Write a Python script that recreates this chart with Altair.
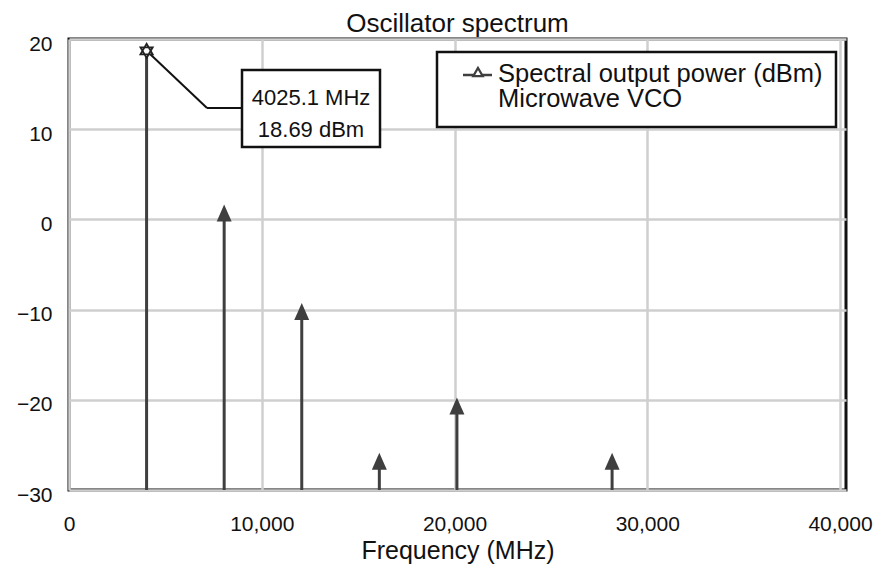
import altair as alt
import pandas as pd

# ---- data ----
freq_mhz = [4025.1, 8050.2, 12075.3, 16100.4, 20125.5, 28175.7]
power_dbm = [18.69, 0.7, -10.2, -26.8, -20.7, -26.8]
x_ticks = [0, 10000, 20000, 30000, 40000]
y_ticks = [-30, -20, -10, 0, 10, 20]
title_text = "Oscillator spectrum"
x_title = "Frequency (MHz)"
legend_text = "Spectral output power (dBm)\nMicrowave VCO"

df = pd.DataFrame({"freq": freq_mhz, "power": power_dbm})
df["floor"] = min(y_ticks)
df["is_peak"] = df["power"] == df["power"].max()
peak = df[df["is_peak"]].iloc[0]
annot_df = pd.DataFrame({"label": [f"{peak['freq']:.1f} MHz\n{peak['power']:.2f} dBm"]})
one = pd.DataFrame({"k": [0]})

# ---- layout / style ----
W, H = 777, 451
FONT = "Liberation Sans"
DARK = "#3f3f3f"
X_MAX = 40311
xs = alt.Scale(domain=[0, X_MAX], nice=False, zero=False)
ys = alt.Scale(domain=[min(y_ticks), max(y_ticks)], nice=False)
TRI = "M0,-1L-0.88,1L0.88,1Z"
STAR = "M0,-1L0.866,0.5L-0.866,0.5Z M0,1L-0.866,-0.5L0.866,-0.5Z"

x_axis = alt.Axis(values=x_ticks, format=",d", title=x_title, ticks=False, tickSize=0,
                  domain=False, labelPadding=23, labelFontSize=21, labelFlush=False,
                  titleFontSize=25, titleY=48, titleBaseline="top", titleFontWeight="normal")
y_axis = alt.Axis(values=y_ticks, format="d", title=None, ticks=False, tickSize=0,
                  domain=False, labelPadding=17, labelFontSize=21, labelOffset=5,
                  labelFlush=False)

base = alt.Chart(df)

stems = base.mark_rule(color=DARK, strokeWidth=3).encode(
    x=alt.X("freq:Q", scale=xs, axis=x_axis),
    y=alt.Y("floor:Q", scale=ys, axis=y_axis),
    y2="power:Q",
)

tris = base.transform_filter("!datum.is_peak").mark_point(
    shape=TRI, size=289, filled=True, color=DARK, opacity=1
).encode(x=alt.X("freq:Q", scale=xs), y=alt.Y("power:Q", scale=ys))

leader = base.transform_filter("datum.is_peak").mark_rule(color="#111", strokeWidth=2).encode(
    x=alt.X("freq:Q", scale=xs), y=alt.Y("power:Q", scale=ys),
    x2=alt.value(138), y2=alt.value(69),
)
leader2 = alt.Chart(one).mark_rule(color="#111", strokeWidth=2).encode(
    x=alt.value(138), x2=alt.value(173), y=alt.value(69)
)

star = base.transform_filter("datum.is_peak").mark_point(
    shape=STAR, size=200, filled=True, fill="white", stroke="#222", strokeWidth=1.8, opacity=1
).encode(x=alt.X("freq:Q", scale=xs), y=alt.Y("power:Q", scale=ys))

annot_box = alt.Chart(annot_df).mark_rect(fill="white", stroke="#111", strokeWidth=2.5).encode(
    x=alt.value(173), x2=alt.value(311), y=alt.value(31), y2=alt.value(108)
)
annot_txt = alt.Chart(annot_df).mark_text(
    font=FONT, fontSize=22, lineBreak="\n", lineHeight=32, align="center",
    baseline="middle", color="#111"
).encode(text="label:N", x=alt.value(242), y=alt.value(59))

leg_box = alt.Chart(one).mark_rect(fill="white", stroke="#111", strokeWidth=2.5).encode(
    x=alt.value(368), x2=alt.value(767), y=alt.value(13), y2=alt.value(88)
)
leg_line = alt.Chart(one).mark_rule(color=DARK, strokeWidth=2.5).encode(
    x=alt.value(394), x2=alt.value(423), y=alt.value(36)
)
leg_sym = alt.Chart(one).mark_point(
    shape="triangle-up", size=90, filled=True, fill="white", stroke=DARK, strokeWidth=2.2, opacity=1
).encode(x=alt.value(409), y=alt.value(33))
leg_txt = alt.Chart(one).mark_text(
    text=legend_text, font=FONT, fontSize=25.5, lineBreak="\n", lineHeight=25,
    align="left", baseline="middle", color="#111"
).encode(x=alt.value(429), y=alt.value(35))

title_mark = alt.Chart(one).mark_text(
    text=title_text, font=FONT, fontSize=26, align="center", baseline="alphabetic", color="#111"
).encode(x=alt.value(W / 2), y=alt.value(-7))

chart = alt.layer(
    stems, tris, leader, leader2, star, annot_box, annot_txt, leg_box, leg_line, leg_sym, leg_txt,
    title_mark,
).properties(
    width=W, height=H,
    autosize=alt.AutoSizeParams(type="none"),
    padding={"left": 61, "top": 31, "right": 28, "bottom": 76},
).configure_view(
    stroke="#111", strokeWidth=3
).configure_axis(
    labelFont=FONT, titleFont=FONT, labelColor="#111", titleColor="#111",
    gridColor="#cfcfcf", gridWidth=2.5,
)

chart.save("out.html", embed_options={"renderer": "svg", "actions": False})
